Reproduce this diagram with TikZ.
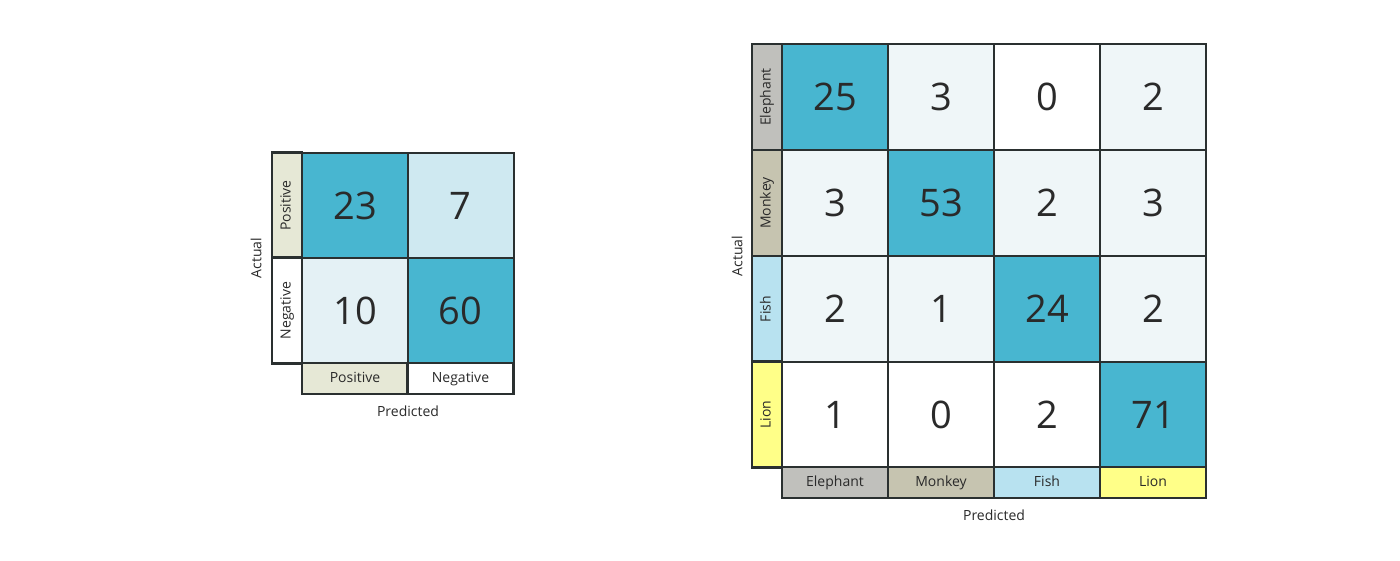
\documentclass[tikz,border=0pt]{standalone}
\usepackage{fontspec}
\setmainfont{Open Sans}
\definecolor{hit}{HTML}{48B6D0}
\definecolor{missA}{HTML}{CFE9F1}
\definecolor{missB}{HTML}{E4F1F5}
\definecolor{missC}{HTML}{EFF6F8}
\definecolor{gridline}{HTML}{2A3030}
\definecolor{ink}{HTML}{2A2A2A}
\definecolor{posfill}{HTML}{E6E8D6}
\definecolor{elefill}{HTML}{C0C0BC}
\definecolor{monfill}{HTML}{C6C4B0}
\definecolor{fishfill}{HTML}{B8E2F0}
\definecolor{lionfill}{HTML}{FFFF88}
\tikzset{
  cell/.style={draw=gridline, line width=2pt, minimum width=106pt, minimum height=106pt,
    inner sep=0pt, text=ink, font=\fontsize{38}{40}\selectfont},
  rowlab/.style={draw=gridline, line width=2.5pt, minimum width=106pt, minimum height=30pt,
    inner sep=0pt, text height=10.5pt, text depth=3.5pt, rotate=90, text=ink,
    font=\fontsize{14}{16}\selectfont},
  collab/.style={draw=gridline, line width=2.5pt, minimum width=106pt, minimum height=31pt,
    inner sep=0pt, text height=10.5pt, text depth=3.5pt, text=ink,
    font=\fontsize{14}{16}\selectfont},
  axislab/.style={text=ink, font=\fontsize{14}{16}\selectfont}
}
\begin{document}
\begin{tikzpicture}[x=1pt,y=-1pt]
    \useasboundingbox[fill=white] (0,0) rectangle (1400,560);

    % Binary matrix
    \node[cell,fill=hit]   (tp) at (355,205.5) {23};
    \node[cell,fill=missA] (fn) at (460.5,205.5) {7};
    \node[cell,fill=missB] (fp) at (355,310.5) {10};
    \node[cell,fill=hit]   (tn) at (460.5,310.5) {60};

    % Binary labels
    \node[rowlab,fill=posfill] (actpos) at (287,205.5) {Positive};
    \node[rowlab,fill=white]   (actneg) at (287,310.5) {Negative};
    \node[collab,fill=posfill] (predpos) at (355,378.5) {Positive};
    \node[collab,fill=white]   (predneg) at (460.5,378.5) {Negative};
    \node[axislab,rotate=90] (actual) at (256,258) {Actual};
    \node[axislab] (predicted) at (408,411) {Predicted};

    % Animal matrix
    \node[cell,fill=hit]   (ee) at (835,97) {25};
    \node[cell,fill=missC] (em) at (941,97) {3};
    \node[cell,fill=white] (ef) at (1047,97) {0};
    \node[cell,fill=missC] (el) at (1153,97) {2};

    \node[cell,fill=missC] (me) at (835,203) {3};
    \node[cell,fill=hit]   (mm) at (941,203) {53};
    \node[cell,fill=missC] (mf) at (1047,203) {2};
    \node[cell,fill=missC] (ml) at (1153,203) {3};

    \node[cell,fill=missC] (fe) at (835,309) {2};
    \node[cell,fill=missC] (fm) at (941,309) {1};
    \node[cell,fill=hit]   (ff) at (1047,309) {24};
    \node[cell,fill=missC] (fl) at (1153,309) {2};

    \node[cell,fill=white] (le) at (835,414.5) {1};
    \node[cell,fill=white] (lm) at (941,414.5) {0};
    \node[cell,fill=white] (lf) at (1047,414.5) {2};
    \node[cell,fill=hit]   (ll) at (1153,414.5) {71};

    % Animal labels
    \node[rowlab,fill=elefill]  (actele) at (767,97) {Elephant};
    \node[rowlab,fill=monfill]  (actmon) at (767,203) {Monkey};
    \node[rowlab,fill=fishfill] (actfish) at (767,309) {Fish};
    \node[rowlab,fill=lionfill] (actlion) at (767,414.5) {Lion};
    \node[collab,fill=elefill]  (predele) at (835,482.5) {Elephant};
    \node[collab,fill=monfill]  (predmon) at (941,482.5) {Monkey};
    \node[collab,fill=fishfill] (predfish) at (1047,482.5) {Fish};
    \node[collab,fill=lionfill] (predlion) at (1153,482.5) {Lion};
    \node[axislab,rotate=90] (actual2) at (737,256) {Actual};
    \node[axislab] (predicted2) at (994,515) {Predicted};
\end{tikzpicture}
\end{document}
